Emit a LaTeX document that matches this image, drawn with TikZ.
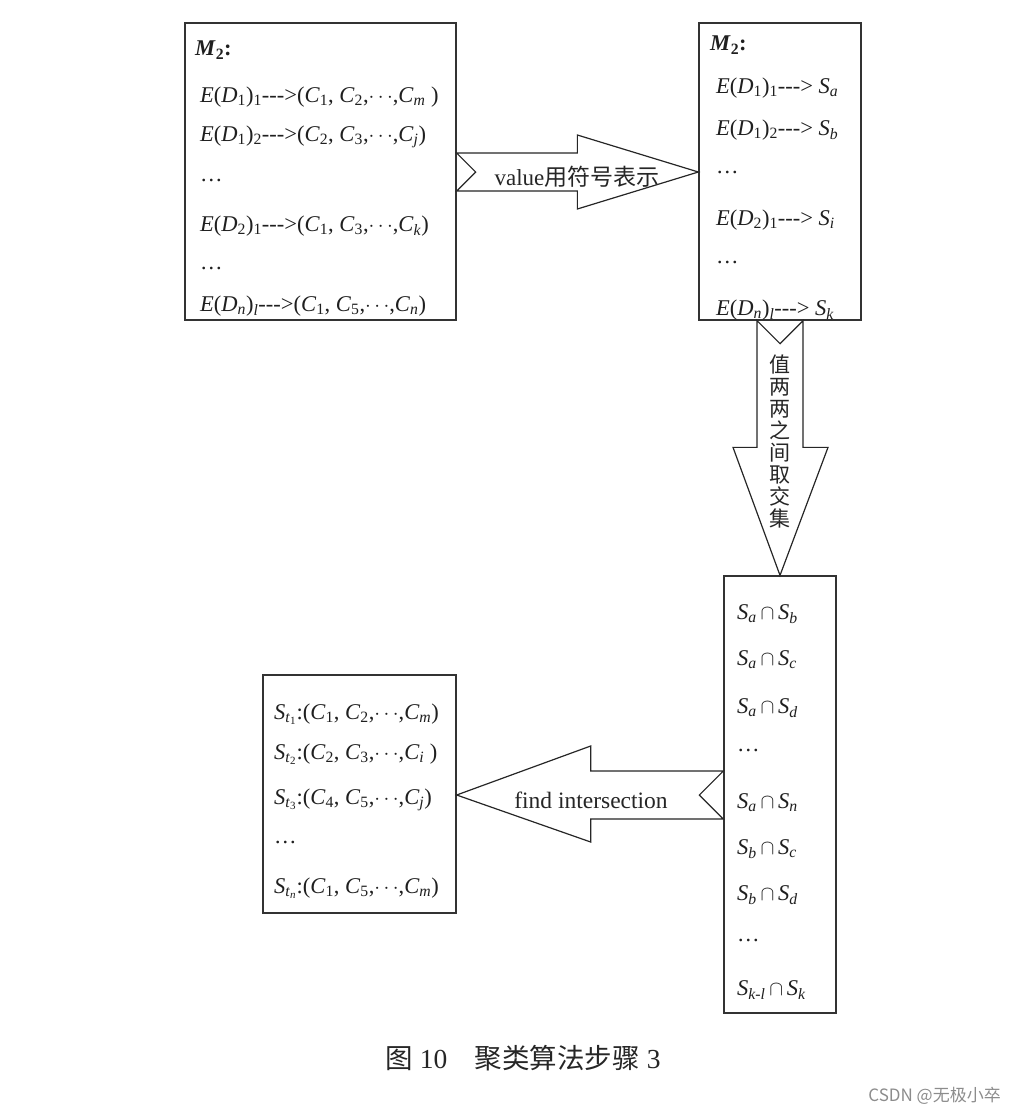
\documentclass[tikz,border=0pt]{standalone}
\usepackage{fontspec}
\setmainfont{Liberation Serif}
\newfontfamily\cjk{Noto Sans CJK SC}
\usetikzlibrary{calc}
\newcommand\vi[1]{\textit{#1}}
\newcommand\dn[1]{\textsubscript{#1}}
\newcommand\arr{{-}{-}{-}>}
\begin{document}
\begin{tikzpicture}[x=1pt,y=-1pt,
  box/.style={draw=black!80, line width=1.3pt, fill=white, inner sep=0pt},
  blk/.style={draw=black!85, line width=1.2pt, fill=white, line join=miter},
  row/.style={anchor=west, inner sep=0pt, font=\fontsize{22.5}{24}\selectfont, text=black!88},
  lbl/.style={inner sep=0pt, font=\fontsize{23.5}{25}\selectfont, text=black!85}]
\useasboundingbox (0,0) rectangle (1016,1114);
% boxes
\node[box, minimum width=271, minimum height=297] (A) at (320.5,171.5) {};
\node[box, minimum width=162, minimum height=297] (B) at (780,171.5) {};
\node[box, minimum width=112, minimum height=437] (C) at (780,794.5) {};
\node[box, minimum width=193, minimum height=238] (D) at (359.5,794) {};
% right block arrow A -> B
\path (A.east |- 0,172) coordinate (rs) (B.west |- 0,172) coordinate (re);
\draw[blk] ($(rs)+(0,-19)$) -- ($(re)+(-121,-19)$) -- ($(re)+(-121,-37)$) -- (re)
  -- ($(re)+(-121,37)$) -- ($(re)+(-121,19)$) -- ($(rs)+(0,19)$) -- ($(rs)+(19,0)$) -- cycle;
\node[lbl, font=\fontsize{23}{25}\selectfont] (lv) at (577,177) {value{\cjk 用符号表示}};
% down block arrow B -> C
\path (B.south) coordinate (ds) (C.north) coordinate (de);
\draw[blk] ($(ds)+(-23,0)$) -- ($(de)+(-23,-128)$) -- ($(de)+(-47,-128)$) -- (de)
  -- ($(de)+(48,-128)$) -- ($(de)+(23,-128)$) -- ($(ds)+(23,0)$) -- ($(ds)+(0,23)$) -- cycle;
\node[lbl, align=center, font=\fontsize{21}{22}\cjk] (ld) at (780,442) {值\\两\\两\\之\\间\\取\\交\\集};
% left block arrow C -> D
\path (C.west |- 0,795) coordinate (ls) (D.east |- 0,795) coordinate (le);
\draw[blk] ($(ls)+(0,-24)$) -- ($(le)+(134,-24)$) -- ($(le)+(134,-49)$) -- (le)
  -- ($(le)+(134,47)$) -- ($(le)+(134,24)$) -- ($(ls)+(0,24)$) -- ($(ls)+(-24,0)$) -- cycle;
\node[lbl] (lf) at (591,800) {find intersection};
% box A text
\node[row] (a0) at (195,50) {\textbf{\textit{M}\textsubscript{2}:}};
\node[row] (a1) at (200,97) {\vi{E}(\vi{D}\dn{1})\dn{1}\arr(\vi{C}\dn{1}, \vi{C}\dn{2},$\cdots$,\vi{C}\dn{\vi{m}} )};
\node[row] (a2) at (200,137) {\vi{E}(\vi{D}\dn{1})\dn{2}\arr(\vi{C}\dn{2}, \vi{C}\dn{3},$\cdots$,\vi{C}\dn{\vi{j}})};
\node[row] (a3) at (200,180) {\ldots};
\node[row] (a4) at (200,226) {\vi{E}(\vi{D}\dn{2})\dn{1}\arr(\vi{C}\dn{1}, \vi{C}\dn{3},$\cdots$,\vi{C}\dn{\vi{k}})};
\node[row] (a5) at (200,268) {\ldots};
\node[row] (a6) at (200,306) {\vi{E}(\vi{D}\dn{\vi{n}})\dn{\vi{l}}\arr(\vi{C}\dn{1}, \vi{C}\dn{5},$\cdots$,\vi{C}\dn{\vi{n}})};
% box B text
\node[row] (b0) at (710,45) {\textbf{\textit{M}\textsubscript{2}:}};
\node[row] (b1) at (716,88) {\vi{E}(\vi{D}\dn{1})\dn{1}\arr{} \vi{S}\dn{\vi{a}}};
\node[row] (b2) at (716,130) {\vi{E}(\vi{D}\dn{1})\dn{2}\arr{} \vi{S}\dn{\vi{b}}};
\node[row] (b3) at (716,172) {\ldots};
\node[row] (b4) at (716,220) {\vi{E}(\vi{D}\dn{2})\dn{1}\arr{} \vi{S}\dn{\vi{i}}};
\node[row] (b5) at (716,262) {\ldots};
\node[row] (b6) at (716,310) {\vi{E}(\vi{D}\dn{\vi{n}})\dn{\vi{l}}\arr{} \vi{S}\dn{\vi{k}}};
% box C text
\node[row] (c1) at (737,614) {\vi{S}\dn{\vi{a}}\,$\cap$\,\vi{S}\dn{\vi{b}}};
\node[row] (c2) at (737,660) {\vi{S}\dn{\vi{a}}\,$\cap$\,\vi{S}\dn{\vi{c}}};
\node[row] (c3) at (737,708) {\vi{S}\dn{\vi{a}}\,$\cap$\,\vi{S}\dn{\vi{d}}};
\node[row] (c4) at (737,750) {\ldots};
\node[row] (c5) at (737,803) {\vi{S}\dn{\vi{a}}\,$\cap$\,\vi{S}\dn{\vi{n}}};
\node[row] (c6) at (737,849) {\vi{S}\dn{\vi{b}}\,$\cap$\,\vi{S}\dn{\vi{c}}};
\node[row] (c7) at (737,895) {\vi{S}\dn{\vi{b}}\,$\cap$\,\vi{S}\dn{\vi{d}}};
\node[row] (c8) at (737,940) {\ldots};
\node[row] (c9) at (737,990) {\vi{S}\dn{\vi{k-l}}\,$\cap$\,\vi{S}\dn{\vi{k}}};
% box D text
\node[row] (d1) at (274,714) {\vi{S}\dn{\vi{t}\dn{1}}:(\vi{C}\dn{1}, \vi{C}\dn{2},$\cdots$,\vi{C}\dn{\vi{m}})};
\node[row] (d2) at (274,754) {\vi{S}\dn{\vi{t}\dn{2}}:(\vi{C}\dn{2}, \vi{C}\dn{3},$\cdots$,\vi{C}\dn{\vi{i}} )};
\node[row] (d3) at (274,800) {\vi{S}\dn{\vi{t}\dn{3}}:(\vi{C}\dn{4}, \vi{C}\dn{5},$\cdots$,\vi{C}\dn{\vi{j}})};
\node[row] (d4) at (274,842) {\ldots};
\node[row] (d5) at (274,888) {\vi{S}\dn{\vi{t}\dn{\vi{n}}}:(\vi{C}\dn{1}, \vi{C}\dn{5},$\cdots$,\vi{C}\dn{\vi{m}})};
% caption and watermark
\node[inner sep=0pt, font=\fontsize{27.5}{30}\selectfont, text=black!85] (cap) at (523,1058) {{\cjk 图} 10\quad{\cjk 聚类算法步骤} 3};
\node[inner sep=0pt, font=\fontsize{17}{19}\cjk, text=black!45, anchor=east] (wm) at (1001,1096) {CSDN @无极小卒};
\end{tikzpicture}
\end{document}
